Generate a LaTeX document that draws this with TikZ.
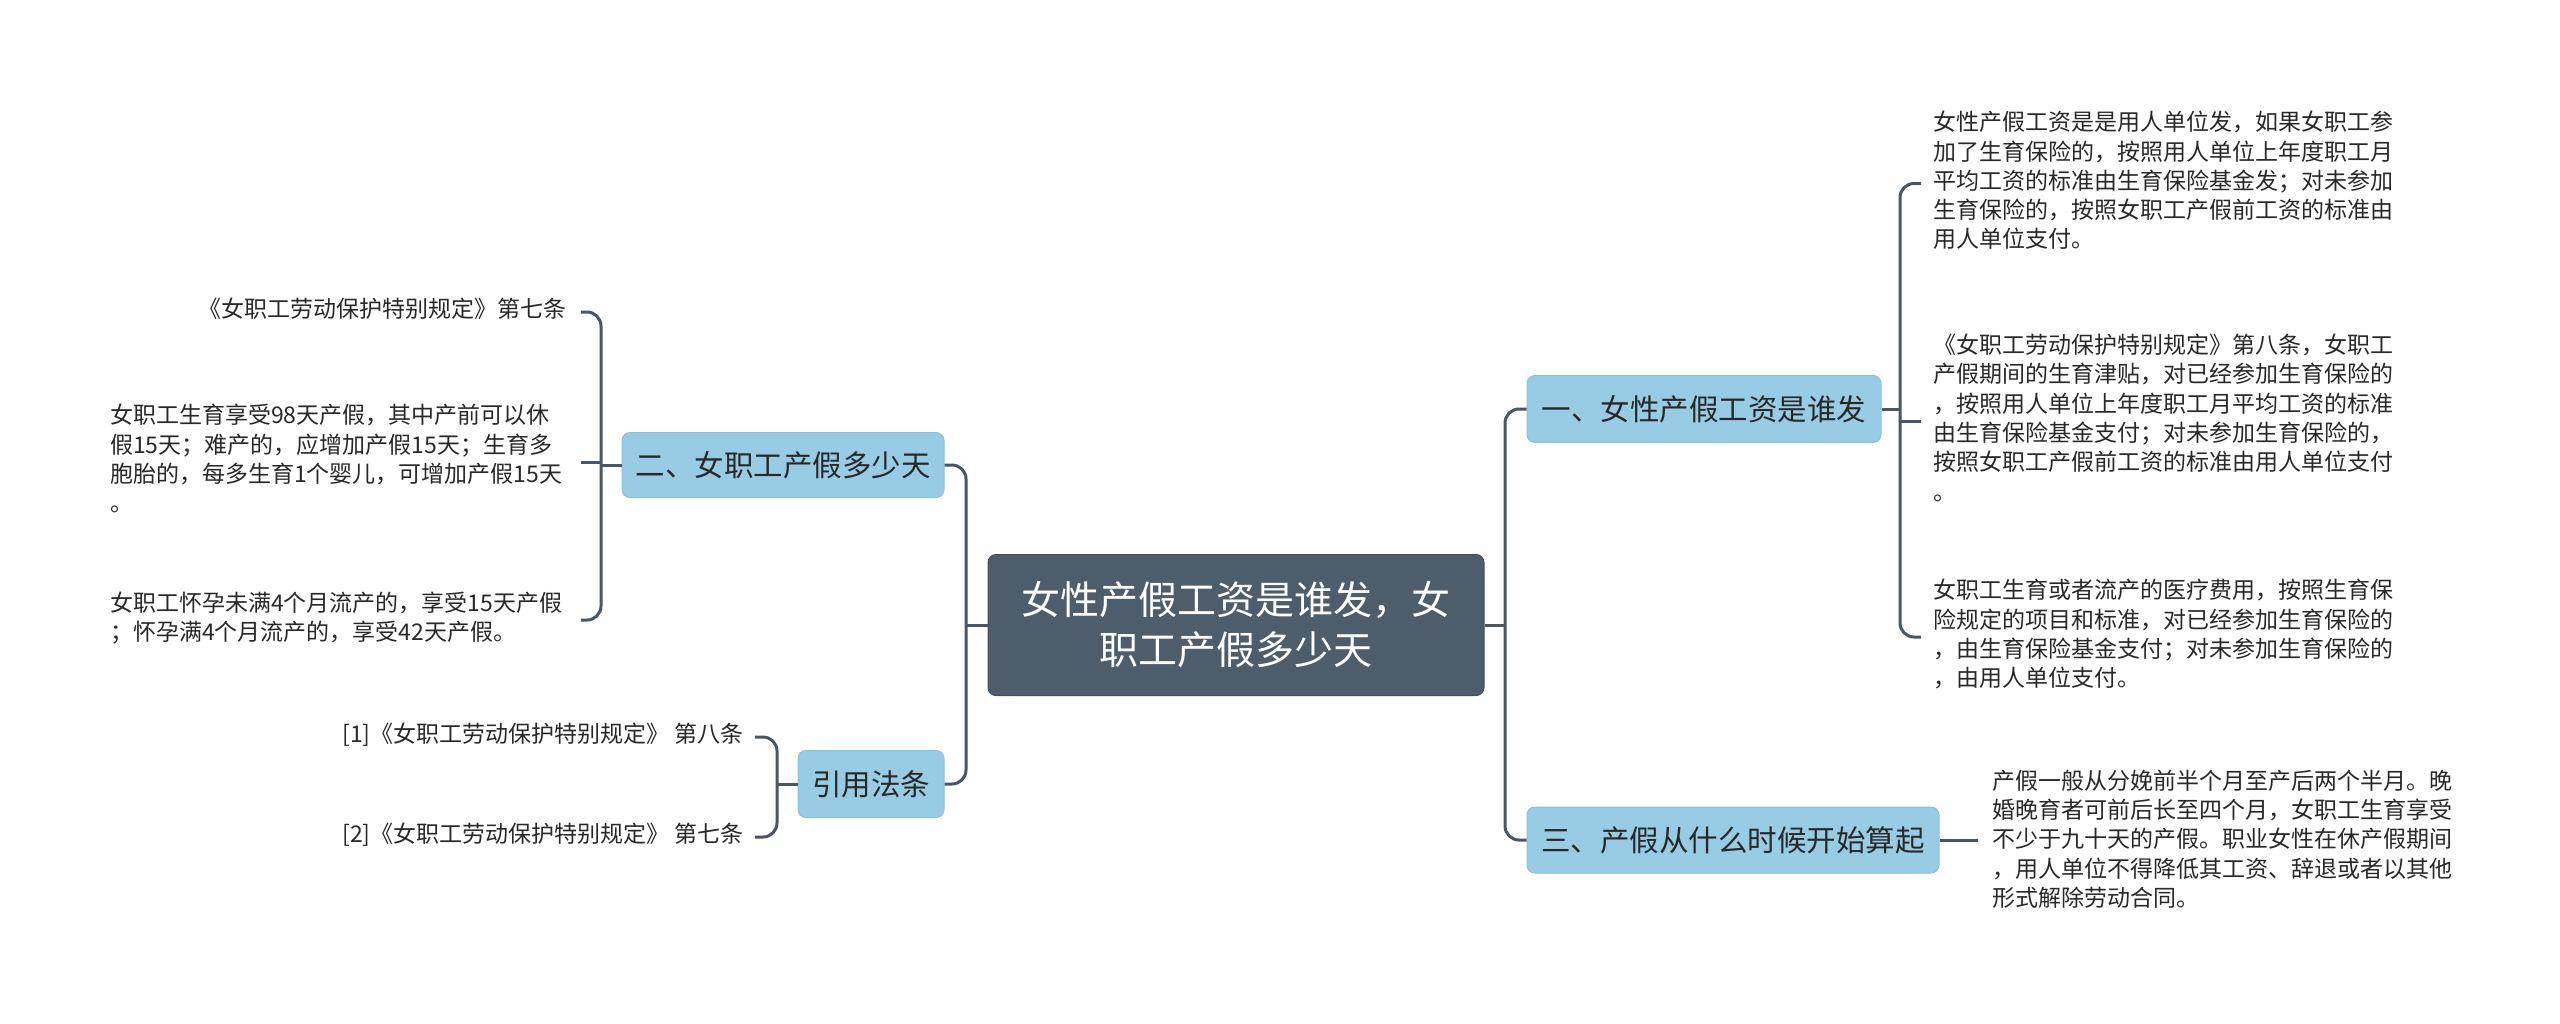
\documentclass[tikz,border=0pt]{standalone}
\usepackage{fontspec}
\setmainfont{Noto Sans CJK SC}
\definecolor{conncol}{RGB}{74,86,99}
\definecolor{topicfill}{RGB}{152,204,228}
\definecolor{topicdraw}{RGB}{140,193,218}
\definecolor{centfill}{RGB}{78,93,108}
\definecolor{centdraw}{RGB}{66,79,92}
\definecolor{leaftext}{RGB}{40,40,40}
\begin{document}
\begin{tikzpicture}[x=1pt,y=-1pt,
  conn/.style={draw=conncol,line width=3pt,rounded corners=14pt},
  topic/.style={rectangle,rounded corners=8pt,fill=topicfill,draw=topicdraw,line width=1pt,
    inner sep=0pt,text=leaftext,font=\fontsize{29.5}{36}\selectfont},
  centnode/.style={rectangle,rounded corners=8pt,fill=centfill,draw=centdraw,line width=1pt,
    inner sep=0pt,text=white,align=center,font=\fontsize{39}{50}\selectfont,
    minimum width=496pt,minimum height=141pt},
  leaf/.style={inner sep=0pt,align=left,text=leaftext,font=\fontsize{23}{29.3}\selectfont},
  leafr/.style={inner sep=0pt,align=right,text=leaftext,font=\fontsize{23}{29.3}\selectfont}]
\useasboundingbox (0,0) rectangle (2560,1023);

% central and topics
\node[centnode] (c) at (1236,625) {女性产假工资是谁发，女\\职工产假多少天};
\node[topic,minimum width=354pt,minimum height=67pt] (n1) at (1704,409) {一、女性产假工资是谁发};
\node[topic,minimum width=322pt,minimum height=65pt] (n2) at (783,465) {二、女职工产假多少天};
\node[topic,minimum width=146pt,minimum height=67pt] (n3) at (871,784) {引用法条};
\node[topic,minimum width=412pt,minimum height=66pt] (n4) at (1733,840) {三、产假从什么时候开始算起};

% right leaves
\node[leaf,anchor=west] (la) at (1933,183.5) {\strut 女性产假工资是是用人单位发，如果女职工参\\加了生育保险的，按照用人单位上年度职工月\\平均工资的标准由生育保险基金发；对未参加\\生育保险的，按照女职工产假前工资的标准由\\用人单位支付。\strut};
\node[leaf,anchor=west] (lb) at (1933,421) {\strut 《女职工劳动保护特别规定》第八条，女职工\\产假期间的生育津贴，对已经参加生育保险的\\，按照用人单位上年度职工月平均工资的标准\\由生育保险基金支付；对未参加生育保险的，\\按照女职工产假前工资的标准由用人单位支付\\。\strut};
\node[leaf,anchor=west] (lc) at (1933,637) {\strut 女职工生育或者流产的医疗费用，按照生育保\\险规定的项目和标准，对已经参加生育保险的\\，由生育保险基金支付；对未参加生育保险的\\，由用人单位支付。\strut};
\node[leaf,anchor=west] (ld) at (1992,842) {\strut 产假一般从分娩前半个月至产后两个半月。晚\\婚晚育者可前后长至四个月，女职工生育享受\\不少于九十天的产假。职业女性在休产假期间\\，用人单位不得降低其工资、辞退或者以其他\\形式解除劳动合同。\strut};

% left leaves
\node[leafr,anchor=east] (l1) at (567,312) {\strut《女职工劳动保护特别规定》第七条\strut};
\node[leaf,anchor=west] (l2) at (110,462) {\strut 女职工生育享受98天产假，其中产前可以休\\假15天；难产的，应增加产假15天；生育多\\胞胎的，每多生育1个婴儿，可增加产假15天\\。\strut};
\node[leaf,anchor=west] (l3) at (110,620) {\strut 女职工怀孕未满4个月流产的，享受15天产假\\；怀孕满4个月流产的，享受42天产假。\strut};
\node[leafr,anchor=east] (r1) at (744,737) {\strut [1]《女职工劳动保护特别规定》 第八条\strut};
\node[leafr,anchor=east] (r2) at (744,837) {\strut [2]《女职工劳动保护特别规定》 第七条\strut};

% helper x positions
\coordinate (lt) at (966,625);
\coordinate (rt) at (1505,625);
\coordinate (bxR) at (1900,0);
\coordinate (txR) at (1921,0);
\coordinate (bxL) at (601,0);
\coordinate (txL) at (581,0);
\coordinate (bxF) at (777,0);
\coordinate (txF) at (755,0);
\coordinate (tx4) at (1978,0);

% trunks
\draw[conn] (c.west) -- (lt);
\draw[conn] (n2.east) -- (n2.east -| lt) -- (n3.east -| lt) -- (n3.east);
\draw[conn] (c.east) -- (rt);
\draw[conn] (n1.west) -- (n1.west -| rt) -- (n4.west -| rt) -- (n4.west);

% bracket for topic 1
\draw[conn] (n1.east) -- (n1.east -| bxR);
\draw[conn] (la.west -| txR) -- (la.west -| bxR) -- (lc.west -| bxR) -- (lc.west -| txR);
\draw[conn] (lb.west -| bxR) -- (lb.west -| txR);

% topic 3
\draw[conn] (n4.east) -- (n4.east -| tx4);

% bracket for topic 2
\draw[conn] (n2.west) -- (n2.west -| bxL);
\draw[conn] (l1.east -| txL) -- (l1.east -| bxL) -- (l3.east -| bxL) -- (l3.east -| txL);
\draw[conn] (l2.east -| txL) -- (l2.east -| bxL);

% bracket for references
\draw[conn] (n3.west) -- (n3.west -| bxF);
\draw[conn] (r1.east -| txF) -- (r1.east -| bxF) -- (r2.east -| bxF) -- (r2.east -| txF);
\end{tikzpicture}
\end{document}
